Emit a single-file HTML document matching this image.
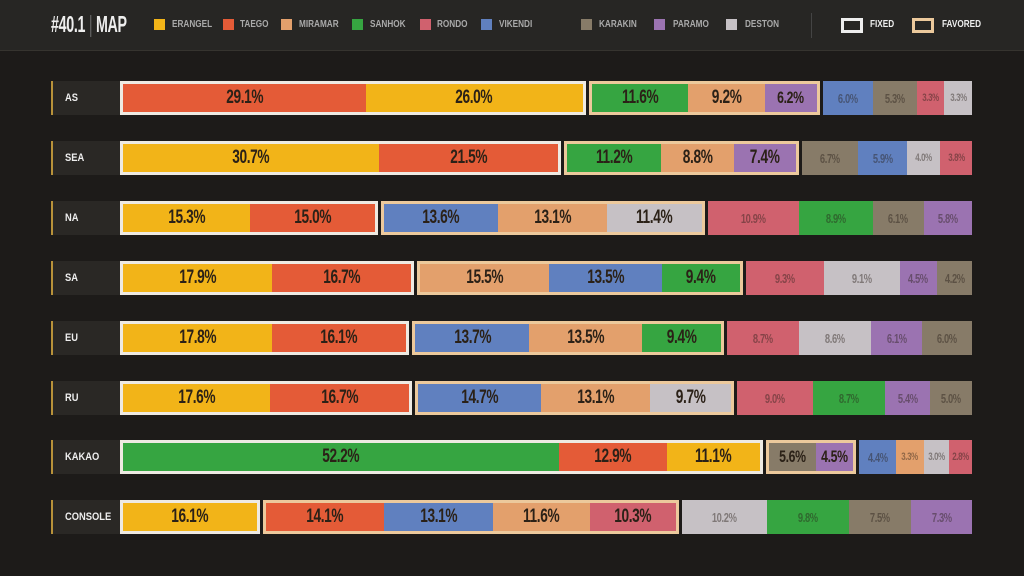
<!DOCTYPE html>
<html><head><meta charset="utf-8"><style>
*{margin:0;padding:0;box-sizing:border-box}
body{width:1024px;height:576px;background:#1d1b19;font-family:"Liberation Sans Narrow","Liberation Sans",sans-serif;font-weight:bold;position:relative;overflow:hidden}
.hdr{position:absolute;left:0;top:0;width:1024px;height:51px;background:#272624;border-bottom:1px solid #36342f}
.title{position:absolute;left:51px;top:11px;color:#eee;font-size:23px;letter-spacing:-0.5px;transform:scaleX(0.62);transform-origin:left center;white-space:nowrap}
.title span{color:#666;font-weight:normal;margin:0 6px}
.lg{position:absolute;top:19px;width:11px;height:11px}
.lt{position:absolute;top:19px;color:#aaa;font-size:10px;transform:scaleX(0.82);transform-origin:left center;white-space:nowrap}
.sep{position:absolute;left:811px;top:13px;width:1px;height:25px;background:#444}
.row{position:absolute;left:51px;height:34px;width:922px}
.lab{position:absolute;left:0;top:0;width:69px;height:34px;background:#2a2825;border-left:2px solid #b8923a;color:#eee;font-size:11px;line-height:34px;padding-left:12px}
.lab span{display:inline-block;transform:scaleX(0.85);transform-origin:left center}
.bar{position:absolute;left:69px;top:0;width:852px;height:34px;display:flex;gap:3px}
.g{display:flex;height:34px}
.fx{border:3px solid #eeeae2}
.fv{border:3px solid #ecc99c}
.s{height:100%;display:flex;align-items:center;justify-content:center;color:#2b2117;font-size:17px;letter-spacing:-0.5px;overflow:hidden;white-space:nowrap}
.s span{display:inline-block;transform:scaleX(0.72)}
.r .s{color:rgba(40,30,25,.45)}
.E{background:#f2b418}.T{background:#e45b37}.M{background:#e3a06c}.S{background:#36a541}.R{background:#d0616e}.V{background:#6080bf}.K{background:#877b68}.P{background:#9b73b1}.D{background:#c6c1c5}
</style></head><body>
<div class="hdr">
<div class="title">#40.1<span>|</span>MAP</div>
<div class="lg E" style="left:154px"></div><div class="lt" style="left:172px">ERANGEL</div>
<div class="lg T" style="left:223px"></div><div class="lt" style="left:240px">TAEGO</div>
<div class="lg M" style="left:281px"></div><div class="lt" style="left:299px">MIRAMAR</div>
<div class="lg S" style="left:352px"></div><div class="lt" style="left:370px">SANHOK</div>
<div class="lg R" style="left:420px"></div><div class="lt" style="left:437px">RONDO</div>
<div class="lg V" style="left:481px"></div><div class="lt" style="left:499px">VIKENDI</div>
<div class="lg K" style="left:581px"></div><div class="lt" style="left:599px">KARAKIN</div>
<div class="lg P" style="left:654px"></div><div class="lt" style="left:673px">PARAMO</div>
<div class="lg D" style="left:726px"></div><div class="lt" style="left:745px">DESTON</div>
<div class="sep"></div>
<div style="position:absolute;left:841px;top:18px;width:22px;height:15px;border:3px solid #eee"></div><div class="lt" style="left:870px;color:#eee">FIXED</div>
<div style="position:absolute;left:912px;top:18px;width:22px;height:15px;border:3px solid #ecc99c"></div><div class="lt" style="left:942px;color:#eee">FAVORED</div>
</div>
<div id="rows"></div>
<script>
const data=[
["AS",[["T",29.1],["E",26.0]],[["S",11.6],["M",9.2],["P",6.2]],[["V",6.0],["K",5.3],["R",3.3],["D",3.3]]],
["SEA",[["E",30.7],["T",21.5]],[["S",11.2],["M",8.8],["P",7.4]],[["K",6.7],["V",5.9],["D",4.0],["R",3.8]]],
["NA",[["E",15.3],["T",15.0]],[["V",13.6],["M",13.1],["D",11.4]],[["R",10.9],["S",8.9],["K",6.1],["P",5.8]]],
["SA",[["E",17.9],["T",16.7]],[["M",15.5],["V",13.5],["S",9.4]],[["R",9.3],["D",9.1],["P",4.5],["K",4.2]]],
["EU",[["E",17.8],["T",16.1]],[["V",13.7],["M",13.5],["S",9.4]],[["R",8.7],["D",8.6],["P",6.1],["K",6.0]]],
["RU",[["E",17.6],["T",16.7]],[["V",14.7],["M",13.1],["D",9.7]],[["R",9.0],["S",8.7],["P",5.4],["K",5.0]]],
["KAKAO",[["S",52.2],["T",12.9],["E",11.1]],[["K",5.6],["P",4.5]],[["V",4.4],["M",3.3],["D",3.0],["R",2.8]]],
["CONSOLE",[["E",16.1]],[["T",14.1],["V",13.1],["M",11.6],["R",10.3]],[["D",10.2],["S",9.8],["K",7.5],["P",7.3]]]];
const tops=[81,141,201,261,321,381,440,500];
let h="";
data.forEach((d,i)=>{
 const grp=(arr,cls)=>{let sum=arr.reduce((a,b)=>a+b[1],0);
  return `<div class="g ${cls}" style="flex:${sum} 1 0">`+arr.map(s=>{let fs=cls=="r"?(s[1]<4.2?11:13):(s[1]<7?17:19);
   return `<div class="s ${s[0]}" style="flex:${s[1]} 1 0;font-size:${fs}px"><span>${s[1].toFixed(1)}%</span></div>`}).join("")+"</div>"};
 h+=`<div class="row" style="top:${tops[i]}px"><div class="lab"><span>${d[0]}</span></div><div class="bar">${grp(d[1],"fx")}${grp(d[2],"fv")}${grp(d[3],"r")}</div></div>`;
});
document.getElementById("rows").innerHTML=h;
</script>
</body></html>
